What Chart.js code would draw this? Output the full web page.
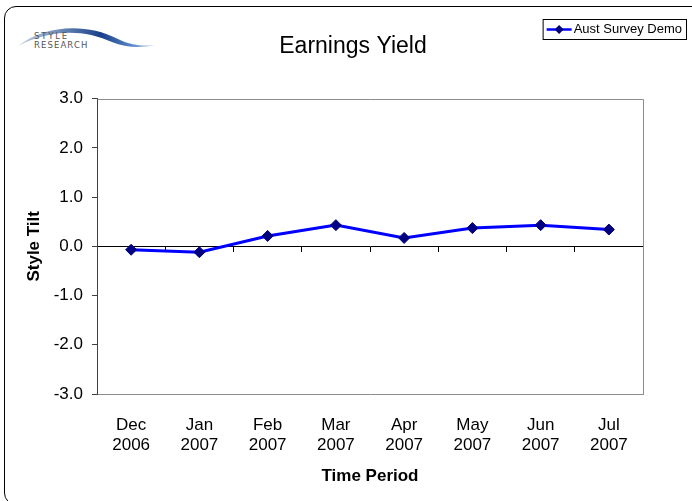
<!DOCTYPE html>
<html>
<head>
<meta charset="utf-8">
<script src="https://cdn.jsdelivr.net/npm/chart.js@4/dist/chart.umd.min.js"></script>
<style>
  html, body { margin: 0; padding: 0; background: #fff; overflow: hidden; }
  #wrap { position: relative; width: 692px; height: 501px; overflow: hidden; }
  #frame { position: absolute; left: 4px; top: 6px; width: 720px; height: 497px;
           border: 1px solid #000; border-radius: 12px; }
  #logo { position: absolute; left: 14px; top: 22px; }
  canvas { position: absolute; left: 0; top: 0; }
</style>
</head>
<body>
<div id="wrap">
  <div id="frame"></div>
  <svg id="logo" width="150" height="32" viewBox="0 0 150 32">
    <defs>
      <linearGradient id="sw" x1="0" x2="1" y1="0" y2="0">
        <stop offset="0" stop-color="#c9d3e0"/>
        <stop offset="0.35" stop-color="#5d7fb0"/>
        <stop offset="0.6" stop-color="#1a3f8a"/>
        <stop offset="0.85" stop-color="#5f8fd0"/>
        <stop offset="1" stop-color="#dfe9f6"/>
      </linearGradient>
    </defs>
    <path d="M4 24 C 30 4, 70 0, 104 17 C 118 24, 130 24, 142 23 C 128 26, 112 26, 98 20 C 68 6, 34 8, 4 24 Z" fill="url(#sw)"/>
    <text x="20" y="17" font-family="DejaVu Sans, Arial" font-size="8.5" letter-spacing="1.8" fill="#555">STYLE</text>
    <text x="20" y="26" font-family="DejaVu Sans, Arial" font-size="8.5" letter-spacing="1.1" fill="#555">RESEARCH</text>
  </svg>
  <canvas id="chart" width="692" height="501"></canvas>
</div>
<script>
const categories = [['Dec', '2006'], ['Jan', '2007'], ['Feb', '2007'], ['Mar', '2007'],
                    ['Apr', '2007'], ['May', '2007'], ['Jun', '2007'], ['Jul', '2007']];
const seriesName = 'Aust Survey Demo';
const styleTilt = [-0.07, -0.12, 0.21, 0.43, 0.17, 0.37, 0.43, 0.34];
const yTicks = [-3, -2, -1, 0, 1, 2, 3];

const FONT = 'Liberation Sans, Arial, sans-serif';

// grey frame along the top and right of the plot area
const plotFrame = {
    id: 'plotFrame',
    beforeDatasetsDraw(chart) {
        const { ctx, chartArea: a } = chart;
        ctx.save();
        ctx.strokeStyle = '#8c8c8c';
        ctx.lineWidth = 1;
        ctx.beginPath();
        ctx.moveTo(Math.round(a.left) + 0.5, Math.round(a.top) + 0.5);
        ctx.lineTo(Math.round(a.right) + 0.5, Math.round(a.top) + 0.5);
        ctx.lineTo(Math.round(a.right) + 0.5, Math.round(a.bottom) + 0.5);
        ctx.stroke();
        ctx.restore();
    },
};

// boxed legend in the top right corner
const boxLegend = {
    id: 'boxLegend',
    afterDraw(chart) {
        const { ctx } = chart;
        const ds = chart.data.datasets[0];
        ctx.save();
        ctx.font = '13px ' + FONT;
        const tw = ctx.measureText(ds.label).width;
        const right = 686, top = 19, h = 20;
        const left = right - tw - 35;
        ctx.fillStyle = '#fff';
        ctx.fillRect(left, top, right - left, h);
        ctx.strokeStyle = '#000';
        ctx.lineWidth = 1;
        ctx.strokeRect(left + 0.5, top + 0.5, right - left, h);
        const cy = top + h / 2 + 0.5;
        ctx.strokeStyle = ds.borderColor;
        ctx.lineWidth = 2.5;
        ctx.beginPath();
        ctx.moveTo(left + 4, cy);
        ctx.lineTo(left + 29, cy);
        ctx.stroke();
        ctx.fillStyle = ds.pointBackgroundColor;
        ctx.beginPath();
        ctx.moveTo(left + 16.5, cy - 4.5);
        ctx.lineTo(left + 21, cy);
        ctx.lineTo(left + 16.5, cy + 4.5);
        ctx.lineTo(left + 12, cy);
        ctx.closePath();
        ctx.fill();
        ctx.fillStyle = '#000';
        ctx.textBaseline = 'middle';
        ctx.fillText(ds.label, left + 31, cy);
        ctx.restore();
    },
};

new Chart(document.getElementById('chart'), {
    type: 'line',
    data: {
        labels: categories,
        datasets: [{
            label: seriesName,
            data: styleTilt,
            borderColor: '#0000ff',
            borderWidth: 3,
            pointStyle: 'rectRot',
            pointRadius: 5.5,
            pointHoverRadius: 5.5,
            pointBackgroundColor: '#000080',
            pointBorderColor: '#000080',
            pointBorderWidth: 1,
            tension: 0,
            fill: false,
        }],
    },
    options: {
        responsive: false,
        animation: false,
        layout: { padding: { left: 14, right: 0, top: 0, bottom: 0 } },
        plugins: {
            legend: { display: false },
            tooltip: { enabled: false },
            title: {
                display: true,
                text: 'Earnings Yield',
                color: '#000',
                font: { family: FONT, size: 23, weight: 'normal', lineHeight: 1.2 },
                padding: { top: 33, bottom: 38 },
            },
        },
        scales: {
            x: {
                type: 'category',
                offset: true,
                grid: { display: true, drawOnChartArea: false, drawTicks: false },
                border: { color: '#8c8c8c', width: 1 },
                ticks: { color: '#000', font: { family: FONT, size: 17, lineHeight: 1.15 },
                         padding: 22, maxRotation: 0, autoSkip: false },
                title: { display: true, text: 'Time Period', color: '#000',
                         font: { family: FONT, size: 17, weight: 'bold', lineHeight: 1.2 },
                         padding: { top: 0, bottom: 14 } },
                afterFit: (s) => { s.height = 107; },
            },
            x2: {
                type: 'category',
                position: { y: 0 },
                offset: true,
                grid: { offset: true, drawOnChartArea: false, drawTicks: true, tickLength: 5, color: '#000' },
                border: { color: '#000', width: 1 },
                ticks: { display: false },
                afterFit: (s) => { s.height = 0; },
            },
            y: {
                min: -3,
                max: 3,
                afterBuildTicks: (s) => { s.ticks = yTicks.map(v => ({ value: v })); },
                grid: { drawOnChartArea: false, drawTicks: true, tickLength: 5, color: '#404040' },
                border: { color: '#404040', width: 1 },
                ticks: { color: '#000', font: { family: FONT, size: 17 }, padding: 9,
                         callback: (v) => Number(v).toFixed(1) },
                title: { display: true, text: 'Style Tilt', color: '#000',
                         font: { family: FONT, size: 17, weight: 'bold', lineHeight: 1.2 },
                         padding: { top: 10, bottom: 0 } },
                afterFit: (s) => { s.width = 83; },
            },
            yR: {
                position: 'right',
                grid: { display: false },
                border: { display: false },
                ticks: { display: false },
                afterFit: (s) => { s.width = 49; },
            },
        },
    },
    plugins: [plotFrame, boxLegend],
});
</script>
</body>
</html>
